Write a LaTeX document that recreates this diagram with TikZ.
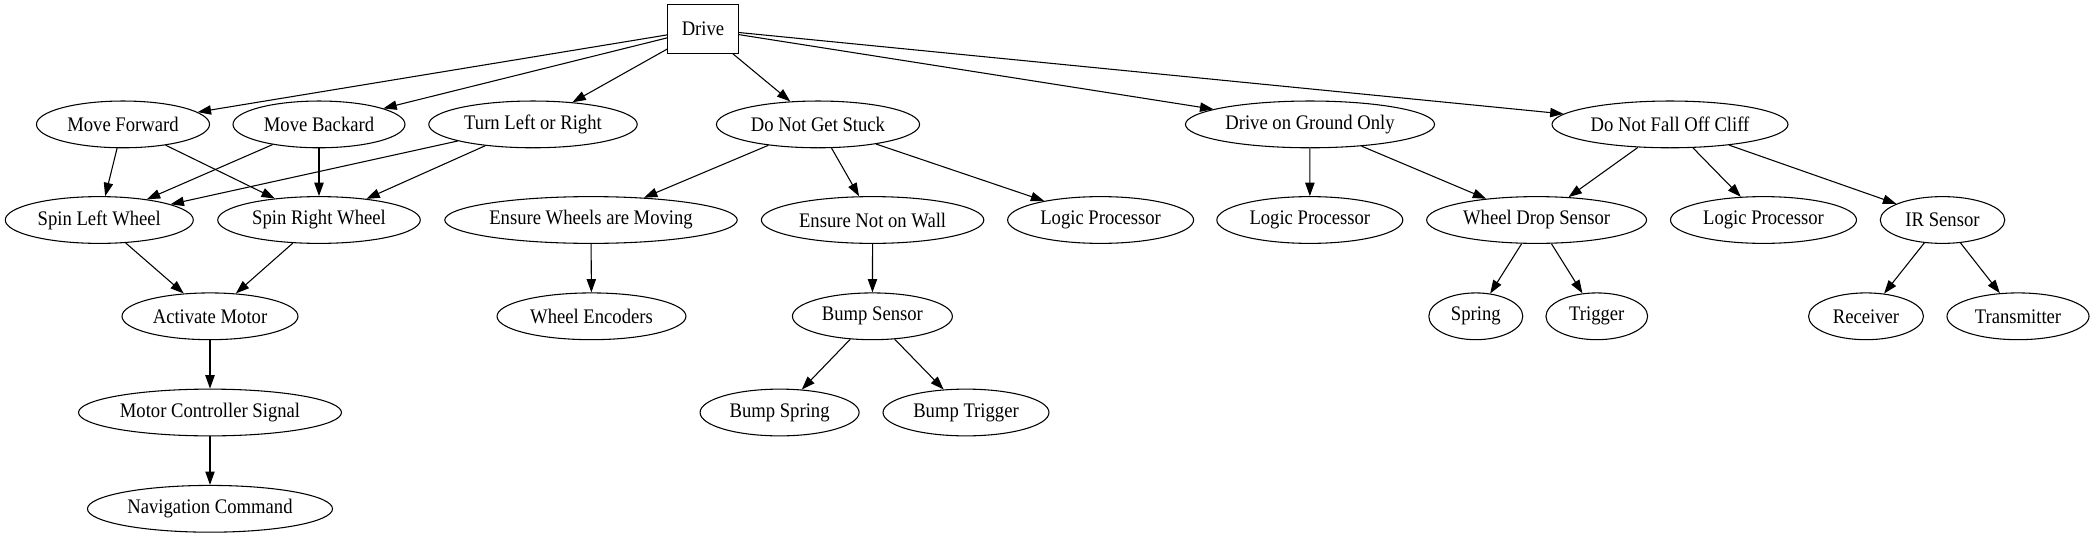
\documentclass[tikz,border=0pt]{standalone}
\usepackage{fontspec}
\setmainfont{Liberation Serif}[FakeStretch=0.9]
\usepackage{tikz}
\usetikzlibrary{shapes.geometric, arrows.meta}
\tikzstyle{goal} = [rectangle, draw, line width=0.8pt, text centered, minimum height=36pt, minimum width=53pt, inner sep=0pt]
\tikzstyle{task} = [ellipse, draw, line width=0.8pt, text centered, minimum height=35pt, inner sep=0pt]
\tikzstyle{arrow} = [line width=0.8pt, -{Triangle[length=10pt, width=7pt]}]

\begin{document}
\begin{tikzpicture}[x=0.7484pt, y=-0.7484pt, node font=\fontsize{15.5}{17}\selectfont]

    \useasboundingbox (0,0) rectangle (2095,539);

    % Root
    \node (drive) [goal] at (703,29) {Drive};

    % Behaviours
    \node (move_fwd) [task, minimum width=129.5pt] at (123,124.4) {Move Forward};
    \node (move_back) [task, minimum width=128.7pt] at (319,124.4) {Move Backard};
    \node (turn) [task, minimum width=156pt] at (533,124.4) {Turn Left or Right};
    \node (stuck) [task, minimum width=152pt] at (818,124.4) {Do Not Get Stuck};
    \node (ground) [task, minimum width=186.4pt] at (1310,124.4) {Drive on Ground Only};
    \node (cliff) [task, minimum width=176.6pt] at (1670,124.4) {Do Not Fall Off Cliff};

    % Second level
    \node (spin_left) [task, minimum width=140.7pt] at (99.3,220) {Spin Left Wheel};
    \node (spin_right) [task, minimum width=151.6pt] at (319,220) {Spin Right Wheel};
    \node (wheels_moving) [task, minimum width=218.9pt] at (591,220) {Ensure Wheels are Moving};
    \node (not_wall) [task, minimum width=166.5pt] at (872.6,220) {Ensure Not on Wall};
    \node (logic1) [task, minimum width=139.2pt] at (1100.6,220) {Logic Processor};
    \node (logic2) [task, minimum width=139.2pt] at (1309.8,220) {Logic Processor};
    \node (drop_sensor) [task, minimum width=164.6pt] at (1536.6,220) {Wheel Drop Sensor};
    \node (logic3) [task, minimum width=139.2pt] at (1763.5,220) {Logic Processor};
    \node (ir_sensor) [task, minimum width=93.2pt] at (1942.5,220) {IR Sensor};

    % Third level
    \node (motor) [task, minimum width=131.7pt] at (210,316.3) {Activate Motor};
    \node (encoders) [task, minimum width=141.4pt] at (591.5,316.3) {Wheel Encoders};
    \node (bump) [task, minimum width=119.7pt] at (872.4,316.3) {Bump Sensor};
    \node (spring) [task, minimum width=70.3pt] at (1475.8,316.3) {Spring};
    \node (trigger) [task, minimum width=76.1pt] at (1596.8,316.3) {Trigger};
    \node (receiver) [task, minimum width=86pt] at (1866,316.3) {Receiver};
    \node (transmitter) [task, minimum width=106.3pt] at (2018,316.3) {Transmitter};

    % Fourth level
    \node (motor_signal) [task, minimum width=196.8pt] at (210,412.5) {Motor Controller Signal};
    \node (bump_spring) [task, minimum width=119pt] at (779.6,412.5) {Bump Spring};
    \node (bump_trigger) [task, minimum width=124.2pt] at (966,412.5) {Bump Trigger};

    % Fifth level
    \node (nav_cmd) [task, minimum width=183.4pt] at (210,508.8) {Navigation Command};

    % ==== Arrows
    % Drive
    \draw [arrow] (drive) -- (move_fwd);
    \draw [arrow] (drive) -- (move_back);
    \draw [arrow] (drive) -- (turn);
    \draw [arrow] (drive) -- (stuck);
    \draw [arrow] (drive) -- (ground);
    \draw [arrow] (drive) -- (cliff);

    % Movement
    \draw [arrow] (move_fwd) -- (spin_left);
    \draw [arrow] (move_fwd) -- (spin_right);
    \draw [arrow] (move_back) -- (spin_left);
    \draw [arrow] (move_back) -- (spin_right);
    \draw [arrow] (turn) -- (spin_left);
    \draw [arrow] (turn) -- (spin_right);
    \draw [arrow] (spin_left) -- (motor);
    \draw [arrow] (spin_right) -- (motor);
    \draw [arrow] (motor) -- (motor_signal);
    \draw [arrow] (motor_signal) -- (nav_cmd);

    % Stuck
    \draw [arrow] (stuck) -- (wheels_moving);
    \draw [arrow] (stuck) -- (not_wall);
    \draw [arrow] (stuck) -- (logic1);
    \draw [arrow] (wheels_moving) -- (encoders);
    \draw [arrow] (not_wall) -- (bump);
    \draw [arrow] (bump) -- (bump_spring);
    \draw [arrow] (bump) -- (bump_trigger);

    % Ground and cliff
    \draw [arrow] (ground) -- (logic2);
    \draw [arrow] (ground) -- (drop_sensor);
    \draw [arrow] (cliff) -- (drop_sensor);
    \draw [arrow] (cliff) -- (logic3);
    \draw [arrow] (cliff) -- (ir_sensor);
    \draw [arrow] (drop_sensor) -- (spring);
    \draw [arrow] (drop_sensor) -- (trigger);
    \draw [arrow] (ir_sensor) -- (receiver);
    \draw [arrow] (ir_sensor) -- (transmitter);

\end{tikzpicture}
\end{document}
